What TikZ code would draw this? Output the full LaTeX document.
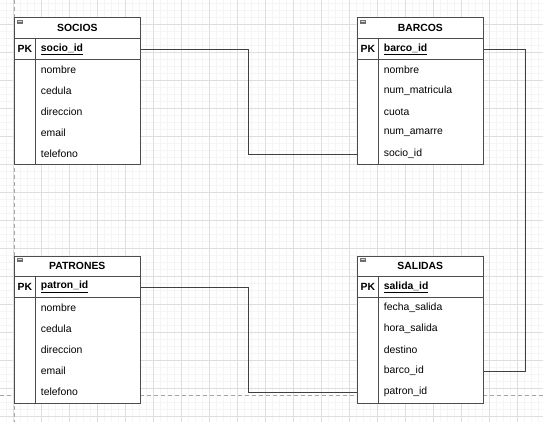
\documentclass[tikz,border=0pt]{standalone}
\usepackage{fontspec}
\setmainfont{Liberation Sans}
\begin{document}
\begin{tikzpicture}[x=1pt,y=-1pt,
  tbl/.style={draw=black!70, line width=0.8pt, fill=white, inner sep=0pt, anchor=north west},
  rowbox/.style={inner sep=0pt, minimum width=126pt, minimum height=21pt},
  hdr/.style={font=\fontsize{10.4}{12}\selectfont\bfseries, inner sep=0pt},
  pk/.style={font=\fontsize{10.4}{12}\selectfont\bfseries, inner sep=0pt},
  fld/.style={font=\fontsize{10.4}{12}\selectfont, inner sep=0pt, anchor=west},
  sep/.style={draw=black!70, line width=0.8pt},
  conn/.style={draw=black!75, line width=0.8pt},
  icon/.style={draw=black!55, fill=black!15, line width=0.4pt, inner sep=0pt, minimum width=5pt, minimum height=3.5pt}
]
\useasboundingbox (0,0) rectangle (543,422);
\fill[white] (0,0) rectangle (543,422);
% grid
\foreach \gx in {6.3,13.3,...,543} \draw[black!4, line width=0.4pt] (\gx,0) -- (\gx,422);
\foreach \gy in {3.3,10.3,...,422} \draw[black!4, line width=0.4pt] (0,\gy) -- (543,\gy);
\foreach \gx in {13.3,41.3,...,543} \draw[black!13, line width=0.6pt] (\gx,0) -- (\gx,422);
\foreach \gy in {24.3,52.3,...,422} \draw[black!13, line width=0.6pt] (0,\gy) -- (543,\gy);
% page break lines
\draw[black!35, dash pattern=on 4pt off 3pt, line width=0.5pt] (14.3,0) -- (14.3,422);
\draw[black!35, dash pattern=on 4pt off 3pt, line width=0.5pt] (0,395) -- (543,395);

% ---------- tables ----------
% SOCIOS
\node[tbl, minimum width=126pt, minimum height=147pt] (socios) at (14.3,17.5) {};
\draw[sep] (14.3,38.5) -- (140.3,38.5);
\draw[sep] (14.3,59.5) -- (140.3,59.5);
\draw[sep] (35.3,38.5) -- (35.3,164.5);
\node[icon] (socios-i) at (19.8,21.8) {};
\draw[black!60, line width=0.5pt] (socios-i.west) -- (socios-i.east);
\node[hdr] (socios-h) at (77.3,28) {SOCIOS};
\node[rowbox] (socios-r0) at (77.3,49) {};
\node[pk] (socios-pk) at (24.8,49) {PK};
\node[fld, font=\fontsize{10.4}{12}\selectfont\bfseries] (socios-f0) at (40.7,49) {\underline{socio\_id}};
\foreach \t [count=\i] in {nombre,cedula,direccion,email,telefono}
  \node[fld] (socios-f\i) at (40.7,49+21*\i) {\t};

% BARCOS
\node[tbl, minimum width=126pt, minimum height=147pt] (barcos) at (357.3,17.5) {};
\draw[sep] (357.3,38.5) -- (483.3,38.5);
\draw[sep] (357.3,59.5) -- (483.3,59.5);
\draw[sep] (378.3,38.5) -- (378.3,164.5);
\node[icon] (barcos-i) at (362.8,21.8) {};
\draw[black!60, line width=0.5pt] (barcos-i.west) -- (barcos-i.east);
\node[hdr] (barcos-h) at (420.3,28) {BARCOS};
\node[rowbox] (barcos-r0) at (420.3,49) {};
\node[rowbox] (barcos-r5) at (420.3,154) {};
\node[pk] (barcos-pk) at (367.8,49) {PK};
\node[fld, font=\fontsize{10.4}{12}\selectfont\bfseries] (barcos-f0) at (383.7,49) {\underline{barco\_id}};
\foreach \t [count=\i] in {nombre,num\_matricula,cuota,num\_amarre,socio\_id}
  \node[fld] (barcos-f\i) at (383.7,49+21*\i) {\t};

% PATRONES
\node[tbl, minimum width=126pt, minimum height=147pt] (patrones) at (14.3,255.5) {};
\draw[sep] (14.3,276.5) -- (140.3,276.5);
\draw[sep] (14.3,297.5) -- (140.3,297.5);
\draw[sep] (35.3,276.5) -- (35.3,402.5);
\node[icon] (patrones-i) at (19.8,259.8) {};
\draw[black!60, line width=0.5pt] (patrones-i.west) -- (patrones-i.east);
\node[hdr] (patrones-h) at (77.3,266) {PATRONES};
\node[rowbox] (patrones-r0) at (77.3,287) {};
\node[pk] (patrones-pk) at (24.8,287) {PK};
\node[fld, font=\fontsize{10.4}{12}\selectfont\bfseries] (patrones-f0) at (40.7,287) {\underline{patron\_id}};
\foreach \t [count=\i] in {nombre,cedula,direccion,email,telefono}
  \node[fld] (patrones-f\i) at (40.7,287+21*\i) {\t};

% SALIDAS
\node[tbl, minimum width=126pt, minimum height=147pt] (salidas) at (357.3,255.5) {};
\draw[sep] (357.3,276.5) -- (483.3,276.5);
\draw[sep] (357.3,297.5) -- (483.3,297.5);
\draw[sep] (378.3,276.5) -- (378.3,402.5);
\node[icon] (salidas-i) at (362.8,259.8) {};
\draw[black!60, line width=0.5pt] (salidas-i.west) -- (salidas-i.east);
\node[hdr] (salidas-h) at (420.3,266) {SALIDAS};
\node[rowbox] (salidas-r4) at (420.3,371) {};
\node[rowbox] (salidas-r5) at (420.3,392) {};
\node[pk] (salidas-pk) at (367.8,287) {PK};
\node[fld, font=\fontsize{10.4}{12}\selectfont\bfseries] (salidas-f0) at (383.7,287) {\underline{salida\_id}};
\foreach \t [count=\i] in {fecha\_salida,hora\_salida,destino,barco\_id,patron\_id}
  \node[fld] (salidas-f\i) at (383.7,287+21*\i) {\t};

% ---------- connectors ----------
\draw[conn] (socios-r0.east) -- ++(108,0) |- (barcos-r5.west);
\draw[conn] (barcos-r0.east) -- ++(42,0) |- (salidas-r4.east);
\draw[conn] (patrones-r0.east) -- ++(108,0) |- (salidas-r5.west);
\end{tikzpicture}
\end{document}
